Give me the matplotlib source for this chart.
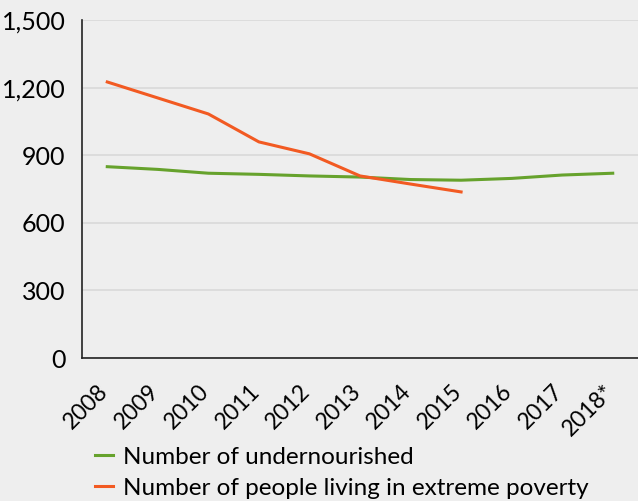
import numpy as np
import matplotlib.pyplot as plt
import matplotlib.transforms as mtransforms
from matplotlib.lines import Line2D

plt.rcParams['font.family'] = ['Lato', 'DejaVu Sans']

years = ['2008', '2009', '2010', '2011', '2012', '2013', '2014', '2015', '2016', '2017', '2018*']
undernourished = [849, 837, 820, 815, 808, 803, 792, 789, 797, 812, 820]
poverty = [1225, 1154, 1083, 959, 906, 808, 772, 737]
yticks = [0, 300, 600, 900, 1200, 1500]

bg = '#eeeeee'
green = '#66a22c'
orange = '#f25a22'

fig = plt.figure(figsize=(6.38, 5.01), dpi=100, facecolor=bg)
ax = fig.add_axes([82/638, 143/501, 556/638, 338/501], facecolor=bg)

x = np.arange(len(years))
ax.plot(x, undernourished, color=green, lw=2.2)
ax.plot(x[:len(poverty)], poverty, color=orange, lw=2.2)

ax.set_xlim(-0.5, len(years) - 0.5)
ax.set_ylim(0, 1500)
ax.set_yticks(yticks)
ax.set_yticklabels([f'{v:,}' for v in yticks], fontsize=18)
ax.set_xticks(x)
ax.set_xticklabels(years, fontsize=16.5, rotation=45, ha='right', rotation_mode='anchor')
ax.tick_params(length=0)
ax.tick_params(axis='y', pad=12)
ax.tick_params(axis='x', pad=16)
# nudge the rotated year labels a little to the left
shift = mtransforms.ScaledTranslation(-10/100, 0, fig.dpi_scale_trans)
for lab in ax.get_xticklabels():
    lab.set_transform(lab.get_transform() + shift)
ax.yaxis.grid(True, color='#d9d9d9', lw=1.2)
ax.set_axisbelow(True)
for s in ['top', 'right']:
    ax.spines[s].set_visible(False)
for s in ['left', 'bottom']:
    ax.spines[s].set_color('#222222')
    ax.spines[s].set_linewidth(1.2)

handles = [Line2D([], [], color=green, lw=2.2), Line2D([], [], color=orange, lw=2.2)]
fig.legend(handles, ['Number of undernourished', 'Number of people living in extreme poverty'],
           loc='upper left', bbox_to_anchor=(80/638, 69/501), frameon=False, fontsize=17.5,
           handlelength=0.75, handletextpad=0.42, labelspacing=0.42, borderpad=0.1)

fig.savefig('out.png', dpi=100, facecolor=bg)
